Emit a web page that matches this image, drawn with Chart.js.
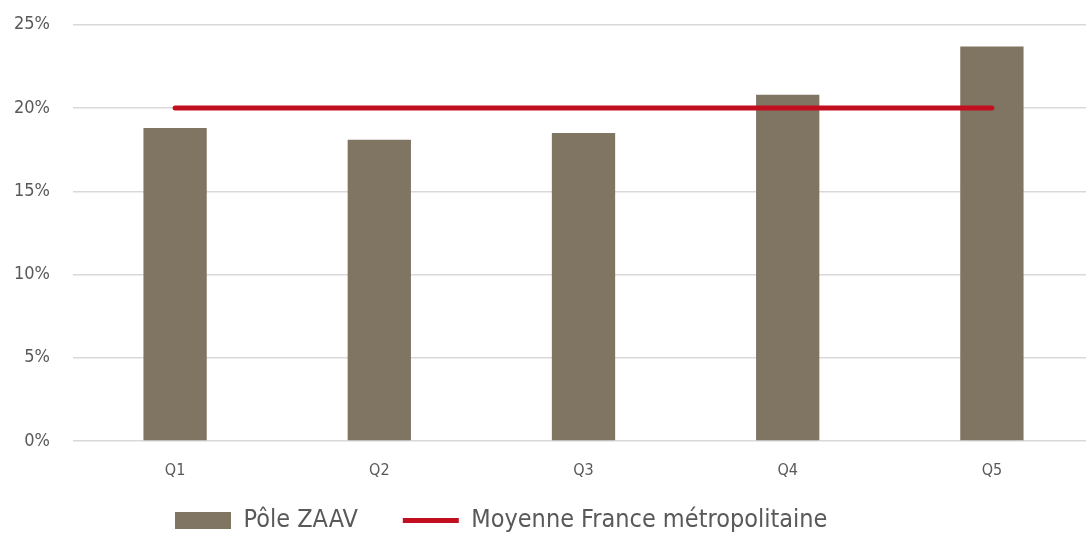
<!DOCTYPE html>
<html lang="fr">
<head>
<meta charset="utf-8">
<title>Pôle ZAAV par quintile</title>
<script src="https://cdn.jsdelivr.net/npm/chart.js@4/dist/chart.umd.min.js"></script>
<style>
  html, body { margin: 0; padding: 0; background: #fff; overflow: hidden; }
  #cadre { position: relative; width: 1094px; height: 570px; margin-top: -9px; }
</style>
</head>
<body>
<div id="cadre"><canvas id="graphique"></canvas></div>
<script>
// Données : part par quintile (%)
const quintiles = ['Q1', 'Q2', 'Q3', 'Q4', 'Q5'];
const poleZaav = [18.8, 18.1, 18.5, 20.8, 23.7];
const moyenneFrance = [20, 20, 20, 20, 20];
const graduations = [0, 5, 10, 15, 20, 25];

const couleurs = {
  brun: '#807463',
  rouge: '#c20f1f',
  grille: '#d9d9d9',
  texte: '#595959'
};

const police = "'Liberation Sans Narrow', 'DejaVu Sans Condensed', 'Arial Narrow', sans-serif";

// la légende démarre sous la première barre, juste sous les libellés
const legendeDecalee = {
  id: 'legendeDecalee',
  afterLayout(chart) {
    chart.legend.left = 130;
    chart.legend.top = 472;
  }
};

new Chart(document.getElementById('graphique'), {
  data: {
    labels: quintiles,
    datasets: [
      {
        type: 'bar',
        label: 'Pôle ZAAV',
        data: poleZaav,
        backgroundColor: couleurs.brun,
        borderWidth: 0,
        barPercentage: 0.31,
        categoryPercentage: 1,
        pointStyle: 'rect',
        order: 2
      },
      {
        type: 'line',
        label: 'Moyenne France métropolitaine',
        data: moyenneFrance,
        borderColor: couleurs.rouge,
        backgroundColor: couleurs.rouge,
        borderWidth: 5,
        borderCapStyle: 'round',
        pointRadius: 0,
        pointStyle: 'line',
        order: 1
      }
    ]
  },
  options: {
    responsive: true,
    maintainAspectRatio: false,
    animation: false,
    plugins: {
      tooltip: { enabled: false },
      legend: {
        position: 'bottom',
        align: 'start',
        labels: {
          usePointStyle: true,
          pointStyleWidth: 56,
          boxHeight: 17,
          padding: 45,
          color: couleurs.texte,
          font: { family: police, size: 25 },
          sort: (a, b) => a.datasetIndex - b.datasetIndex
        }
      }
    },
    scales: {
      x: {
        grid: { display: false, drawTicks: false },
        border: { display: false },
        ticks: { color: couleurs.texte, font: { family: police, size: 16 }, padding: 20 },
        afterFit: (s) => { s.height = 40; }
      },
      y: {
        min: 0,
        max: 25,
        afterBuildTicks: (s) => { s.ticks = graduations.map(v => ({ value: v })); },
        grid: { color: couleurs.grille, lineWidth: 1.5, drawTicks: false },
        border: { display: false },
        ticks: {
          color: couleurs.texte,
          font: { family: police, size: 18 },
          padding: 23,
          callback: (v) => v + '%'
        },
        afterFit: (s) => { s.width = 73; }
      }
    }
  },
  plugins: [legendeDecalee]
});
</script>
</body>
</html>
